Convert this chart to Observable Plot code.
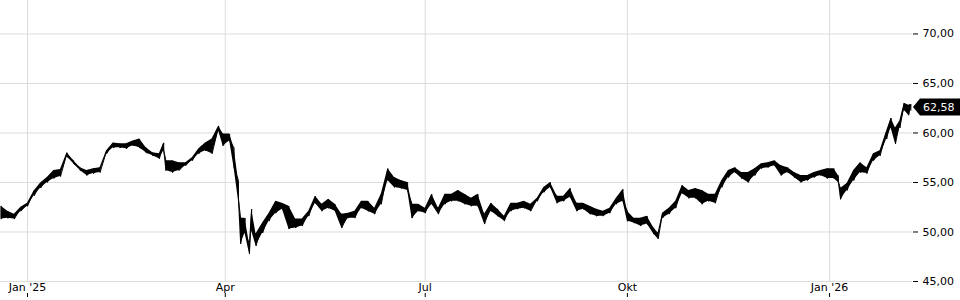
<!DOCTYPE html>
<html>
<head>
<meta charset="utf-8">
<script src="https://cdn.jsdelivr.net/npm/d3@7"></script>
<script src="https://cdn.jsdelivr.net/npm/@observablehq/plot@0.6"></script>
<style>
  html, body { margin: 0; padding: 0; background: #fff; }
  #chart svg { display: block; }
</style>
</head>
<body>
<div id="chart"></div>
<script>
const dates = [
  "2024-12-20","2024-12-23","2024-12-26","2024-12-29",
  "2025-01-01","2025-01-04","2025-01-07","2025-01-10","2025-01-13","2025-01-16","2025-01-19","2025-01-22","2025-01-25","2025-01-28","2025-01-31",
  "2025-02-03","2025-02-06","2025-02-09","2025-02-12","2025-02-15","2025-02-18","2025-02-21","2025-02-24","2025-02-27",
  "2025-03-02","2025-03-04","2025-03-05","2025-03-08","2025-03-11","2025-03-14","2025-03-17","2025-03-20","2025-03-23","2025-03-26","2025-03-29","2025-03-31",
  "2025-04-03","2025-04-05","2025-04-07","2025-04-08","2025-04-10","2025-04-12","2025-04-13","2025-04-15","2025-04-18","2025-04-21","2025-04-24","2025-04-27","2025-04-30",
  "2025-05-03","2025-05-06","2025-05-09","2025-05-12","2025-05-15","2025-05-18","2025-05-21","2025-05-24","2025-05-27","2025-05-30",
  "2025-06-02","2025-06-05","2025-06-08","2025-06-11","2025-06-14","2025-06-17","2025-06-20","2025-06-23","2025-06-25","2025-06-28",
  "2025-07-01","2025-07-04","2025-07-07","2025-07-10","2025-07-13","2025-07-16","2025-07-19","2025-07-22","2025-07-25","2025-07-28","2025-07-31",
  "2025-08-03","2025-08-06","2025-08-09","2025-08-12","2025-08-15","2025-08-18","2025-08-21","2025-08-24","2025-08-27","2025-08-30",
  "2025-09-02","2025-09-05","2025-09-08","2025-09-11","2025-09-14","2025-09-17","2025-09-20","2025-09-23","2025-09-26","2025-09-29",
  "2025-10-01","2025-10-04","2025-10-07","2025-10-10","2025-10-13","2025-10-15","2025-10-17","2025-10-20","2025-10-23","2025-10-26","2025-10-29",
  "2025-11-01","2025-11-04","2025-11-07","2025-11-10","2025-11-13","2025-11-16","2025-11-19","2025-11-22","2025-11-25","2025-11-28",
  "2025-12-01","2025-12-04","2025-12-07","2025-12-10","2025-12-13","2025-12-16","2025-12-19","2025-12-22","2025-12-25","2025-12-28","2025-12-31",
  "2026-01-03","2026-01-05","2026-01-06","2026-01-09","2026-01-12","2026-01-15","2026-01-18","2026-01-21","2026-01-24","2026-01-27","2026-01-29","2026-01-31",
  "2026-02-02","2026-02-04","2026-02-06","2026-02-07"
];
const highs = [
  52.6,52.1,51.8,52.5,
  52.9,54.15,54.95,55.5,56.2,56.3,58.0,57.2,56.5,56.2,56.4,
  56.5,58.2,59.0,58.9,58.9,59.2,59.4,58.5,58.0,
  57.9,59.0,57.2,57.2,57.0,57.0,57.5,58.4,59.0,59.4,60.7,59.9,
  59.9,58.5,55.2,51.4,51.4,48.8,52.3,49.8,50.9,51.9,53.1,52.9,52.6,
  51.3,51.3,52.1,53.6,52.8,53.3,52.8,51.8,51.9,52.1,
  53.1,53.1,52.4,53.8,56.4,55.5,55.2,55.0,52.8,52.8,
  52.4,53.8,52.4,53.8,53.8,54.2,53.8,53.4,53.8,51.8,52.9,
  52.3,51.6,52.9,52.9,53.1,52.8,53.4,54.5,55.0,53.6,
  53.6,54.4,52.9,52.9,52.6,52.3,52.1,52.4,53.4,54.3,
  52.1,51.4,51.4,51.6,50.4,49.9,51.9,52.4,53.1,54.7,54.2,
  54.4,54.2,53.8,53.8,55.2,56.2,56.5,56.0,56.0,56.4,
  56.9,57.0,57.2,56.7,56.5,56.0,55.7,55.7,56.0,56.2,56.4,
  56.4,55.7,54.4,54.9,56.2,57.0,56.5,57.9,58.2,60.2,61.5,60.5,
  61.2,63.0,62.8,62.9
];
const lows = [
  51.3,51.4,51.3,52.1,
  52.6,53.65,54.45,55.0,55.4,55.6,57.6,56.9,56.2,55.7,55.9,
  56.0,57.9,58.5,58.5,58.4,58.7,58.5,58.0,57.7,
  57.4,58.2,56.2,56.0,56.2,56.7,57.2,57.9,58.2,57.9,60.2,58.7,
  59.2,56.5,53.2,48.8,49.9,47.8,50.1,48.6,49.9,51.1,51.9,52.3,50.3,
  50.4,50.6,51.6,52.9,52.1,52.4,52.1,50.4,51.4,51.4,
  52.4,52.1,51.8,52.8,55.2,54.5,54.4,54.2,51.4,52.1,
  51.9,52.8,51.8,52.8,53.1,53.1,52.8,52.6,52.6,50.8,52.1,
  51.6,51.1,52.1,52.3,52.4,52.1,53.1,54.0,54.5,52.9,
  53.1,53.5,52.1,52.3,51.8,51.6,51.6,51.9,52.8,53.1,
  51.1,50.9,50.6,50.8,49.8,49.3,51.4,51.8,52.4,53.9,53.4,
  53.4,52.8,53.1,52.9,54.5,55.5,56.0,55.4,55.0,55.7,
  56.4,56.5,56.7,55.7,56.0,55.5,55.0,55.2,55.5,55.7,55.4,
  55.4,55.0,53.3,54.2,55.2,56.0,55.9,57.2,57.7,59.4,60.5,58.9,
  60.5,62.3,61.8,62.3
];
const lastValue = 62.58;

const yTicks = [45, 50, 55, 60, 65, 70];
const xTickDates = ["2025-01-01", "2025-04-01", "2025-07-01", "2025-10-01", "2026-01-01"];
const xTickLabels = ["Jan '25", "Apr", "Jul", "Okt", "Jan '26"];

const rows = dates.map((d, i) => ({date: new Date(d), lo: lows[i], hi: highs[i]}));
// trace that swings between the sampled high and low (the reference's jagged intraday line)
const trace = rows.flatMap(r => [{date: r.date, v: r.hi}, {date: r.date, v: r.lo}]);
const xTicks = xTickDates.map(d => new Date(d));
const fmtY = v => v.toFixed(2).replace(".", ",");
const fmtX = d => xTickLabels[xTicks.findIndex(t => +t === +d)];

const chart = Plot.plot({
  width: 960,
  height: 300,
  marginLeft: 0,
  marginRight: 48,
  marginTop: 0,
  marginBottom: 19,
  style: {fontFamily: "'DejaVu Sans', sans-serif", fontSize: "11px", color: "#000", background: "#fff", overflow: "visible"},
  x: {type: "utc", domain: [new Date(Date.UTC(2024, 11, 19, 17)), new Date(Date.UTC(2026, 1, 7, 18))]},
  y: {domain: [45, 73.38]},
  marks: [
    Plot.gridY(yTicks, {stroke: "#dcdcdc", strokeOpacity: 1}),
    Plot.gridX(xTicks, {stroke: "#dcdcdc", strokeOpacity: 1}),
    Plot.areaY(rows, {x: "date", y1: "lo", y2: "hi", fill: "#000"}),
    Plot.line(trace, {x: "date", y: "v", stroke: "#000", strokeWidth: 1}),
    Plot.axisY(yTicks, {anchor: "right", tickSize: 5, tickPadding: 5, tickFormat: fmtY, fill: "#000", stroke: "#000"}),
    Plot.axisX(xTicks, {anchor: "bottom", tickSize: 0, tickPadding: 2, tickFormat: fmtX, fill: "#000"}),
    Plot.axisX(xTicks, {anchor: "bottom", tickSize: 4, tickPadding: 0, tickFormat: () => "", dy: 12, stroke: "#000"})
  ]
});

document.getElementById("chart").appendChild(chart);

// Last-price marker on the right axis
const ys = chart.scale("y");
const yv = ys.apply(lastValue);
const svg = d3.select(chart);
svg.append("path")
  .attr("d", `M913,${yv} L920,${yv - 8.5} L960,${yv - 8.5} L960,${yv + 8.5} L920,${yv + 8.5} Z`)
  .attr("fill", "#000");
svg.append("text")
  .attr("x", 923)
  .attr("y", yv)
  .attr("dy", "0.35em")
  .attr("text-anchor", "start")
  .attr("fill", "#fff")
  .attr("stroke", "none")
  .attr("font-family", "'DejaVu Sans', sans-serif")
  .attr("font-size", 11)
  .text(fmtY(lastValue));
</script>
</body>
</html>
